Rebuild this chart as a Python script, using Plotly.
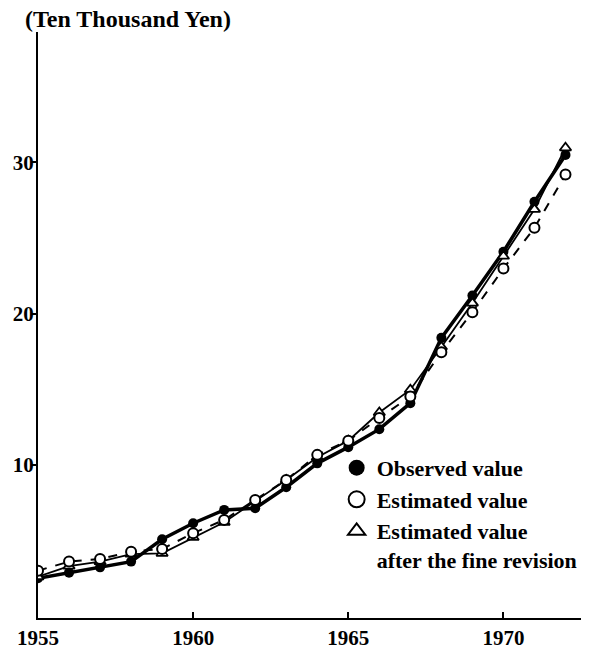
import plotly.graph_objects as go

years = list(range(1955, 1973))
observed = [2.5, 2.87, 3.22, 3.6, 5.08, 6.14, 7.02, 7.13, 8.52, 10.1, 11.17, 12.36, 14.08, 18.4, 21.2, 24.1, 27.4, 30.5]
estimated = [3.0, 3.6, 3.77, 4.26, 4.44, 5.48, 6.36, 7.68, 9.0, 10.66, 11.6, 13.1, 14.52, 17.45, 20.1, 22.98, 25.68, 29.2]
revised = [2.6, 3.3, 3.6, 4.1, 4.15, 5.2, 6.2, 7.6, 9.0, 10.5, 11.6, 13.46, 14.97, 17.8, 20.7, 23.8, 26.9, 30.97]

x_ticks = [1955, 1960, 1965, 1970]
y_ticks = [10, 20, 30]
y_title = "(Ten Thousand Yen)"
names = ["Observed value", "Estimated value", "Estimated value<br>after the fine revision"]

SERIF = "Liberation Serif, DejaVu Serif, serif"

fig = go.Figure()
fig.add_trace(go.Scatter(x=years, y=observed, mode="lines+markers",
                         line=dict(color="black", width=3.5),
                         marker=dict(symbol="circle", size=10, color="black"),
                         showlegend=False))
fig.add_trace(go.Scatter(x=years, y=revised, mode="lines+markers",
                         line=dict(color="black", width=1.8),
                         marker=dict(symbol="triangle-up", size=10, color="white",
                                     line=dict(color="black", width=1.8)),
                         showlegend=False))
fig.add_trace(go.Scatter(x=years, y=estimated, mode="lines+markers",
                         line=dict(color="black", width=2, dash="dash"),
                         marker=dict(symbol="circle", size=10, color="white",
                                     line=dict(color="black", width=2)),
                         showlegend=False))

# legend-only entries
fig.add_trace(go.Scatter(x=[None], y=[None], mode="markers", name=names[0],
                         marker=dict(symbol="circle", size=18, color="black")))
fig.add_trace(go.Scatter(x=[None], y=[None], mode="markers", name=names[1],
                         marker=dict(symbol="circle-open", size=18, color="black",
                                     line=dict(width=2))))
fig.add_trace(go.Scatter(x=[None], y=[None], mode="markers", name=names[2],
                         marker=dict(symbol="triangle-up-open", size=15, color="black",
                                     line=dict(width=2))))

fig.update_layout(
    width=590, height=649,
    margin=dict(l=38, r=8, t=32, b=31),
    paper_bgcolor="white", plot_bgcolor="white",
    font=dict(family=SERIF, color="black", size=22),
    xaxis=dict(range=[1955, 1972.5], tickvals=x_ticks,
               ticktext=["<b>%d</b>" % v for v in x_ticks],
               showgrid=False, zeroline=False, showline=True, linecolor="black", linewidth=2,
               ticks="inside", ticklen=6, tickwidth=1.5, tickcolor="black",
               automargin=False,
               tickfont=dict(family=SERIF, size=21), mirror=False),
    yaxis=dict(range=[-0.13, 38.63], tickvals=y_ticks,
               ticktext=["<b>%d</b>" % v for v in y_ticks],
               showgrid=False, zeroline=False, showline=True, linecolor="black", linewidth=2,
               ticks="outside", ticklen=4, tickwidth=1.5, tickcolor="black",
               ticklabelstandoff=-6, automargin=False,
               tickfont=dict(family=SERIF, size=21), mirror=False),
    legend=dict(x=0.549, y=0.292, xanchor="left", yanchor="top", valign="top",
                bgcolor="rgba(0,0,0,0)", font=dict(family=SERIF, size=22, weight="bold"),
                tracegroupgap=0),
    annotations=[dict(text="<b>%s</b>" % y_title, xref="paper", yref="paper", x=-0.028, y=1.0,
                      yshift=13, xanchor="left", yanchor="middle", showarrow=False,
                      font=dict(family=SERIF, size=24))],
)

fig.write_html("out.html", config={"displayModeBar": False},
               post_script="document.body.style.margin='0px';")
